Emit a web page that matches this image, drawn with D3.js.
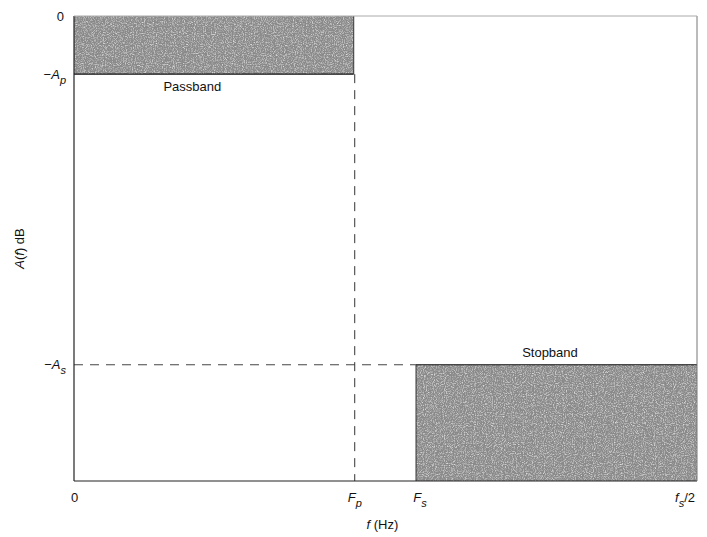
<!DOCTYPE html>
<html>
<head>
<meta charset="utf-8">
<script src="https://cdn.jsdelivr.net/npm/d3@7"></script>
<style>
body { margin: 0; background: #fff; }
text { font-family: "Liberation Sans", Arial, sans-serif; fill: #111; }
</style>
</head>
<body>
<div id="chart"></div>
<script>
// frequency marks, as fraction of fs/2
var freqNames = ["0", "Fp", "Fs", "fs/2"];
var freqValues = [0, 0.449, 0.549, 1];
// attenuation marks in dB
var ampNames = ["0", "-Ap", "-As"];
var ampValues = [0, -5, -30];
var ampFloor = -40;
// shaded bands: [x0, x1, y0, y1]
var bandNames = ["Passband", "Stopband"];
var bandX0 = [0, 0.549];
var bandX1 = [0.449, 1];
var bandY0 = [0, -30];
var bandY1 = [-5, -40];

var width = 707, height = 537;
var margin = {left: 74, right: 10, top: 16, bottom: 56};

var svg = d3.select("#chart").append("svg")
    .attr("width", width)
    .attr("height", height);

var x = d3.scaleLinear().domain([0, 1]).range([margin.left, width - margin.right]);
var y = d3.scaleLinear().domain([ampFloor, 0]).range([height - margin.bottom, margin.top]);

// grainy texture for the shaded bands
var defs = svg.append("defs");
var filt = defs.append("filter").attr("id", "grain")
    .attr("x", 0).attr("y", 0).attr("width", 1).attr("height", 1);
filt.append("feTurbulence")
    .attr("type", "fractalNoise")
    .attr("baseFrequency", 0.9)
    .attr("numOctaves", 2)
    .attr("seed", 3)
    .attr("result", "noise");
filt.append("feColorMatrix")
    .attr("in", "noise")
    .attr("type", "matrix")
    .attr("values", "0 0 0 0 0.75  0 0 0 0 0.75  0 0 0 0 0.75  1.2 1.2 1.2 0 -1.7")
    .attr("result", "dots");
filt.append("feComposite")
    .attr("in", "dots").attr("in2", "SourceGraphic").attr("operator", "atop");

bandNames.forEach(function(name, i) {
    var rx = x(bandX0[i]), rw = x(bandX1[i]) - x(bandX0[i]);
    var ry = y(bandY0[i]), rh = y(bandY1[i]) - y(bandY0[i]);
    svg.append("rect")
        .attr("x", rx).attr("y", ry)
        .attr("width", rw).attr("height", rh)
        .attr("fill", "#8a8a8a")
        .attr("filter", "url(#grain)");
});

// band edges
svg.append("line")
    .attr("x1", x(0)).attr("x2", x(bandX1[0]))
    .attr("y1", y(bandY1[0])).attr("y2", y(bandY1[0]))
    .attr("stroke", "#111").attr("stroke-width", 1.2);
svg.append("line")
    .attr("x1", x(bandX1[0])).attr("x2", x(bandX1[0]))
    .attr("y1", y(0)).attr("y2", y(bandY1[0]))
    .attr("stroke", "#333").attr("stroke-width", 1);
svg.append("line")
    .attr("x1", x(bandX0[1])).attr("x2", x(1))
    .attr("y1", y(bandY0[1])).attr("y2", y(bandY0[1]))
    .attr("stroke", "#111").attr("stroke-width", 1.2);
svg.append("line")
    .attr("x1", x(bandX0[1])).attr("x2", x(bandX0[1]))
    .attr("y1", y(bandY0[1])).attr("y2", y(ampFloor))
    .attr("stroke", "#333").attr("stroke-width", 1);

// dashed guide lines
svg.append("line")
    .attr("x1", x(freqValues[1]) + 1).attr("x2", x(freqValues[1]) + 1)
    .attr("y1", y(ampValues[1])).attr("y2", y(ampFloor))
    .attr("stroke", "#333").attr("stroke-dasharray", "9,7");
svg.append("line")
    .attr("x1", x(0)).attr("x2", x(freqValues[2]))
    .attr("y1", y(ampValues[2])).attr("y2", y(ampValues[2]))
    .attr("stroke", "#444").attr("stroke-dasharray", "9,7");

// frame
svg.append("line").attr("x1", x(0)).attr("x2", x(0)).attr("y1", y(0)).attr("y2", y(ampFloor))
    .attr("stroke", "#222").attr("stroke-width", 1.2);
svg.append("line").attr("x1", x(0)).attr("x2", x(1)).attr("y1", y(ampFloor)).attr("y2", y(ampFloor))
    .attr("stroke", "#222").attr("stroke-width", 1.2);
svg.append("line").attr("x1", x(1)).attr("x2", x(1)).attr("y1", y(0)).attr("y2", y(ampFloor))
    .attr("stroke", "#777").attr("stroke-width", 1);
svg.append("line").attr("x1", x(0)).attr("x2", x(1)).attr("y1", y(0)).attr("y2", y(0))
    .attr("stroke", "#aaa").attr("stroke-width", 1);

// label with optional subscript, e.g. "-Ap" -> -A with p below
function writeLabel(t, s) {
    t.text(null);
    if (s === "0") { t.text("0"); return; }
    if (s === "fs/2") {
        t.append("tspan").attr("font-style", "italic").text("f");
        t.append("tspan").attr("font-style", "italic").attr("font-size", 11).attr("dy", 5).text("s");
        t.append("tspan").attr("dy", -5).text("/2");
        return;
    }
    var main = s.slice(0, -1), sub = s.slice(-1);
    if (main.charAt(0) === "-") {
        t.append("tspan").text("\u2212");
        main = main.slice(1);
    }
    t.append("tspan").attr("font-style", "italic").text(main);
    t.append("tspan").attr("font-style", "italic").attr("font-size", 11).attr("dy", 5).text(sub);
}

// x axis labels
var xAxis = d3.axisBottom(x).tickValues(freqValues).tickSize(0).tickPadding(12);
var gx = svg.append("g")
    .attr("transform", "translate(0," + y(ampFloor) + ")")
    .call(xAxis);
gx.select(".domain").remove();
gx.selectAll("text")
    .attr("font-size", 13)
    .attr("font-family", "Liberation Sans, Arial, sans-serif")
    .attr("fill", "#111")
    .each(function(d, i) { writeLabel(d3.select(this), freqNames[i]); });
gx.selectAll(".tick").filter(function(d, i) { return i === 1; })
    .attr("transform", "translate(" + (x(freqValues[1]) + 1) + ",0)");
gx.selectAll(".tick").filter(function(d, i) { return i === 2; })
    .attr("transform", "translate(" + (x(freqValues[2]) + 4) + ",0)");
gx.selectAll(".tick").filter(function(d, i) { return i === 3; })
    .attr("transform", "translate(" + (x(1) - 12) + ",0)");

// y axis labels
var yAxis = d3.axisLeft(y).tickValues(ampValues).tickSize(0).tickPadding(8);
var gy = svg.append("g")
    .attr("transform", "translate(" + x(0) + ",0)")
    .call(yAxis);
gy.select(".domain").remove();
gy.selectAll("text")
    .attr("font-size", 13)
    .attr("font-family", "Liberation Sans, Arial, sans-serif")
    .attr("fill", "#111")
    .each(function(d, i) { writeLabel(d3.select(this), ampNames[i]); });
gy.selectAll(".tick text").filter(function(d, i) { return i === 0; })
    .attr("x", -10);

// band names
svg.append("text")
    .attr("x", x(0.19)).attr("y", y(bandY1[0]) + 17)
    .attr("text-anchor", "middle")
    .attr("font-size", 13)
    .text(bandNames[0]);
svg.append("text")
    .attr("x", x(0.764)).attr("y", y(bandY0[1]) - 8)
    .attr("text-anchor", "middle")
    .attr("font-size", 13)
    .text(bandNames[1]);

// axis titles
var yt = svg.append("text")
    .attr("transform", "translate(24," + y(-20) + ") rotate(-90)")
    .attr("text-anchor", "middle")
    .attr("font-size", 13);
yt.append("tspan").attr("font-style", "italic").text("A");
yt.append("tspan").text("(");
yt.append("tspan").attr("font-style", "italic").text("f");
yt.append("tspan").text(") dB");

var xt = svg.append("text")
    .attr("x", x(0.495)).attr("y", 529)
    .attr("text-anchor", "middle")
    .attr("font-size", 13);
xt.append("tspan").attr("font-style", "italic").text("f");
xt.append("tspan").text(" (Hz)");
</script>
</body>
</html>
